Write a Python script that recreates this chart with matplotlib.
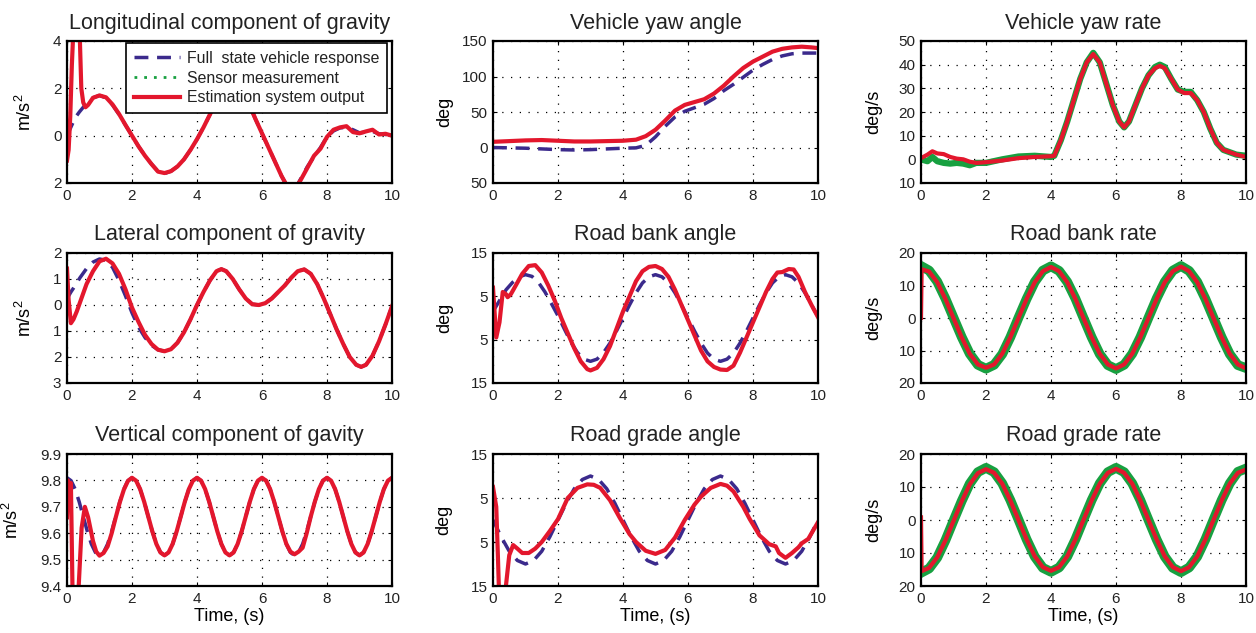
import numpy as np
import matplotlib
matplotlib.use('Agg')
import matplotlib.pyplot as plt
from matplotlib.lines import Line2D
from matplotlib.ticker import FuncFormatter

plt.rcParams['font.family'] = ['Liberation Sans', 'DejaVu Sans']
plt.rcParams['mathtext.fontset'] = 'custom'
plt.rcParams['mathtext.rm'] = 'Liberation Sans'
plt.rcParams['mathtext.default'] = 'regular'
plt.rcParams['text.color'] = '#222222'
plt.rcParams['xtick.color'] = 'black'
plt.rcParams['ytick.color'] = 'black'
plt.rcParams['xtick.labelcolor'] = '#222222'
plt.rcParams['ytick.labelcolor'] = '#222222'

RED = '#e3172d'
BLUE = '#3b2a8c'
GREEN = '#17a040'

# ---------------- data ----------------
# longitudinal component of gravity (m/s^2)
long_t = [0, 0.05, 0.1, 0.15, 0.2, 0.3, 0.38, 0.44, 0.5, 0.57, 0.65, 0.8, 1.0, 1.2, 1.4, 1.6, 1.8,
          2.0, 2.2, 2.4, 2.6, 2.8, 3.0, 3.2, 3.4, 3.6, 3.8, 4.0, 4.2, 4.4, 4.6, 4.8, 5.0, 5.2, 5.4,
          5.6, 5.8, 6.0, 6.2, 6.4, 6.6, 6.8, 7.0, 7.2, 7.4, 7.6, 7.8, 8.0, 8.2, 8.4, 8.6, 8.8, 9.0,
          9.2, 9.4, 9.6, 9.8, 10.0]
long_full = [0.0, 0.15, 0.3, 0.45, 0.6, 0.85, 1.0, 1.1, 1.2, 1.3, 1.4, 1.6, 1.7, 1.6, 1.3, 0.9, 0.45,
             0.0, -0.45, -0.85, -1.2, -1.5, -1.6, -1.5, -1.3, -1.0, -0.6, -0.15, 0.35, 0.9, 1.5, 2.0,
             2.3, 2.35, 2.0, 1.3, 0.7, 0.1, -0.5, -1.1, -1.7, -2.2, -2.3, -1.8, -1.3, -0.9, -0.5,
             -0.05, 0.2, 0.33, 0.35, 0.25, 0.12, 0.15, 0.18, 0.08, 0.05, 0.0]
long_est = [-1.05, -0.6, 0.8, 3.0, 4.6, 5.0, 4.8, 2.0, 1.4, 1.2, 1.3, 1.6, 1.7, 1.62, 1.32, 0.92, 0.45,
            0.0, -0.45, -0.85, -1.2, -1.52, -1.58, -1.5, -1.3, -1.0, -0.6, -0.15, 0.35, 0.9, 1.5, 2.0,
            2.3, 2.35, 2.0, 1.35, 0.7, 0.1, -0.5, -1.1, -1.7, -2.2, -2.3, -1.85, -1.35, -0.85, -0.55,
            -0.05, 0.25, 0.35, 0.4, 0.15, 0.1, 0.18, 0.25, 0.05, 0.08, 0.0]

# vehicle yaw angle (deg)
yaw_t = [0, 0.5, 1, 1.5, 2, 2.5, 3, 3.5, 4, 4.4, 4.7, 5.0, 5.3, 5.6, 5.9, 6.2, 6.5, 6.8, 7.1, 7.4,
         7.7, 8.0, 8.3, 8.6, 8.9, 9.2, 9.5, 9.8, 10]
yaw_full = [0, -0.5, -1, -2, -3, -3.5, -3, -2, -1, -0.5, 3, 15, 30, 43, 51, 56, 61, 69, 80, 89,
            99, 109, 117, 124, 129, 132, 133, 133, 133]
yaw_est = [8, 9, 10, 10.5, 9.5, 8.5, 8.5, 9, 9.5, 11, 16, 25, 38, 52, 60, 64, 68, 76, 87, 100,
           112, 121, 128, 135, 139, 141, 142, 141, 140]

# vehicle yaw rate (deg/s)
yawr_t = [0, 0.2, 0.35, 0.5, 0.7, 0.9, 1.1, 1.3, 1.5, 1.7, 2.0, 2.5, 3.0, 3.5, 4.0, 4.1, 4.3, 4.5,
          4.7, 4.9, 5.1, 5.3, 5.5, 5.7, 5.9, 6.1, 6.25, 6.4, 6.6, 6.8, 7.0, 7.2, 7.35, 7.5, 7.7,
          7.9, 8.1, 8.3, 8.5, 8.7, 8.9, 9.1, 9.3, 9.5, 9.7, 10]
yawr_est = [0.5, 2, 3.4, 2.5, 2.2, 1.0, 0.3, 0, -1, -1.5, -1.2, -0.5, 0.5, 1.0, 1.3, 1.5, 8, 16,
            25, 34, 41, 44.5, 41, 32, 23, 16, 13.5, 16, 23, 30, 35.5, 38.5, 39.5, 38.5, 34,
            29.5, 28, 28, 25, 20, 13, 7, 4, 3, 2, 1]
yawr_meas = [0, -0.8, 1, -0.8, -1.5, -1.8, -1.5, -1.8, -2.5, -1.5, -1.5, 0, 1.2, 1.5, 1.0, 1.5, 8,
             16, 25, 34, 41, 45, 41, 32, 23, 16, 13.5, 16, 23, 30, 35.5, 39, 40, 39, 34,
             29.5, 28.5, 28.5, 25, 20, 13, 7, 4, 3, 2, 1.5]

# lateral component of gravity (m/s^2)
lat_t = [0, 0.05, 0.12, 0.2, 0.3, 0.4, 0.6, 0.8, 1.0, 1.2, 1.4, 1.6, 1.8, 2.0, 2.2, 2.4, 2.6, 2.8,
         3.0, 3.2, 3.4, 3.6, 3.8, 4.0, 4.2, 4.4, 4.6, 4.75, 4.9, 5.1, 5.3, 5.5, 5.7, 5.9, 6.1, 6.3,
         6.5, 6.7, 6.9, 7.1, 7.3, 7.5, 7.7, 7.9, 8.1, 8.3, 8.5, 8.7, 8.9, 9.05, 9.2, 9.4, 9.6, 9.8, 10]
lat_full = [0.2, 0.35, 0.5, 0.65, 0.85, 1.05, 1.4, 1.65, 1.77, 1.72, 1.45, 0.95, 0.35, -0.3, -0.85,
            -1.25, -1.55, -1.72, -1.78, -1.7, -1.45, -1.05, -0.55, 0.0, 0.5, 0.95, 1.3, 1.38, 1.3,
            1.0, 0.6, 0.25, 0.03, 0.0, 0.07, 0.25, 0.5, 0.75, 1.05, 1.3, 1.37, 1.2, 0.8, 0.25,
            -0.35, -0.95, -1.5, -2.0, -2.3, -2.38, -2.3, -1.95, -1.4, -0.75, -0.05]
lat_est = [1.4, 0.2, -0.7, -0.55, -0.25, 0.1, 0.8, 1.3, 1.68, 1.78, 1.6, 1.2, 0.6, -0.1, -0.65,
           -1.15, -1.5, -1.72, -1.78, -1.7, -1.45, -1.05, -0.55, 0.0, 0.5, 0.95, 1.3, 1.38, 1.3,
           1.0, 0.6, 0.25, 0.03, 0.0, 0.07, 0.25, 0.5, 0.75, 1.05, 1.3, 1.37, 1.2, 0.8, 0.25,
           -0.35, -0.95, -1.5, -2.0, -2.3, -2.38, -2.3, -1.95, -1.4, -0.75, -0.05]

# road bank angle (deg)
bank_t = [0, 0.2, 0.4, 0.6, 0.8, 1.0, 1.2, 1.4, 1.6, 1.8, 2.0, 2.2, 2.4, 2.6, 2.8, 3.0, 3.2, 3.4,
          3.6, 3.8, 4.0, 4.2, 4.4, 4.6, 4.8, 5.0, 5.2, 5.4, 5.6, 5.8, 6.0, 6.2, 6.4, 6.6, 6.8, 7.0,
          7.2, 7.4, 7.6, 7.8, 8.0, 8.2, 8.4, 8.6, 8.8, 9.0, 9.2, 9.4, 9.6, 9.8, 10]
bank_full = [1.5, 4.0, 6.5, 8.2, 9.5, 10.0, 9.6, 8.2, 6.0, 3.3, 0.5, -2.6, -5.6, -8.0, -9.5, -10.0,
             -9.5, -8.0, -5.8, -3.0, 0.0, 3.0, 5.8, 8.1, 9.5, 10.0, 9.5, 8.1, 5.8, 3.0, 0.0, -3.0,
             -5.8, -8.1, -9.5, -10.0, -9.5, -8.1, -5.8, -3.0, 0.0, 3.0, 5.8, 8.1, 9.5, 10.0, 9.5,
             8.1, 5.8, 3.0, 0.3]
bank_est_t = [0, 0.1, 0.2, 0.3, 0.4, 0.45, 0.55, 0.7, 0.9, 1.1, 1.3, 1.5, 1.7, 1.9, 2.1, 2.3, 2.5,
              2.7, 2.9, 3.0, 3.2, 3.4, 3.6, 3.8, 4.0, 4.2, 4.4, 4.6, 4.8, 5.0, 5.2, 5.4, 5.6, 5.8,
              6.0, 6.2, 6.4, 6.6, 6.8, 7.0, 7.2, 7.4, 7.6, 7.8, 8.0, 8.2, 8.4, 8.6, 8.75, 8.9,
              9.1, 9.25, 9.4, 9.6, 9.8, 10]
bank_est = [7, -4.5, -1, 6, 5.5, 4.8, 5.5, 7.5, 10.2, 12.0, 12.2, 10.5, 7.5, 4, 0, -3.5, -7, -10,
            -11.8, -12.1, -11.5, -9.5, -6.5, -2.5, 1.5, 5, 8.5, 10.8, 11.8, 12, 11.3, 9.5, 6.5,
            3, -0.5, -4, -7.5, -10, -11.3, -11.9, -12, -11, -8, -4.5, -1, 2.5, 6, 9, 10.5, 10.6,
            11.3, 11.2, 9.5, 6, 3, 0.2]

# road bank rate (deg/s), 0.25 s grid
rate_t = [0.25 * k for k in range(41)]
bank_rate_est_t = [0, 0.02] + rate_t[1:]
bank_rate_est = [0, 15.0, 14.3, 11.0, 5.9, 0.0, -5.9, -11.0, -14.3, -15.3, -14.3, -11.0, -5.9, 0.0,
                 5.9, 11.0, 14.4, 15.7, 14.4, 11.0, 5.9, 0.0, -5.9, -11.0, -14.3, -15.5, -14.3,
                 -11.0, -5.9, 0.0, 5.9, 11.0, 14.4, 15.8, 14.4, 11.0, 5.9, 0.0, -5.9, -11.0, -14.3,
                 -15.5]
bank_rate_meas = [16.0, 14.6, 11.2, 6.0, 0.1, -5.8, -11.0, -14.4, -15.6, -14.4, -11.1, -5.9, 0.1,
                  5.9, 11.1, 14.6, 15.9, 14.5, 11.1, 6.0, 0.0, -5.9, -11.1, -14.5, -15.7, -14.4,
                  -11.0, -5.9, 0.1, 6.0, 11.1, 14.6, 16.0, 14.5, 11.1, 5.9, 0.0, -5.9, -11.1,
                  -14.5, -15.4]

# vertical component of gravity (m/s^2), 0.125 s grid
vert_t = [0.125 * k for k in range(81)]
vert_full = [9.81, 9.799, 9.767, 9.719, 9.663, 9.607, 9.559, 9.527,
             9.516, 9.527, 9.559, 9.607, 9.663, 9.719, 9.767, 9.799,
             9.81, 9.799, 9.767, 9.719, 9.663, 9.607, 9.559, 9.527,
             9.516, 9.527, 9.559, 9.607, 9.663, 9.719, 9.767, 9.799,
             9.81, 9.799, 9.767, 9.719, 9.663, 9.607, 9.559, 9.527,
             9.516, 9.527, 9.559, 9.607, 9.663, 9.719, 9.767, 9.799,
             9.81, 9.799, 9.767, 9.719, 9.663, 9.607, 9.559, 9.527,
             9.516, 9.527, 9.559, 9.607, 9.663, 9.719, 9.767, 9.799,
             9.81, 9.799, 9.767, 9.719, 9.663, 9.607, 9.559, 9.527,
             9.516, 9.527, 9.559, 9.607, 9.663, 9.719, 9.767, 9.799, 9.81]
vert_est_t = [0, 0.03, 0.08, 0.12, 0.18, 0.25, 0.3, 0.36, 0.45, 0.55, 0.65, 0.8, 0.9, 1.0,
              1.125] + vert_t[10:]
vert_est = [9.66, 9.80, 9.75, 9.79, 9.30, 9.20, 9.25, 9.40, 9.62, 9.70, 9.66, 9.57, 9.53, 9.515,
            9.525,
            9.55, 9.60, 9.66, 9.717, 9.765, 9.798,
            9.81, 9.799, 9.767, 9.719, 9.663, 9.607, 9.559, 9.527,
            9.516, 9.527, 9.559, 9.607, 9.663, 9.719, 9.767, 9.799,
            9.81, 9.799, 9.767, 9.719, 9.663, 9.607, 9.559, 9.527,
            9.516, 9.527, 9.559, 9.607, 9.663, 9.719, 9.767, 9.799,
            9.81, 9.799, 9.767, 9.719, 9.663, 9.607, 9.559, 9.53,
            9.52, 9.53, 9.545, 9.60, 9.663, 9.719, 9.767, 9.799,
            9.81, 9.799, 9.767, 9.719, 9.663, 9.607, 9.559, 9.527,
            9.516, 9.527, 9.559, 9.607, 9.663, 9.719, 9.767, 9.799, 9.81]

# road grade angle (deg)
grade_full = [0, -3.8, -7.1, -9.2, -10, -9.2, -7.1, -3.8, 0, 3.8, 7.1, 9.2, 10, 9.2, 7.1, 3.8,
              0, -3.8, -7.1, -9.2, -10, -9.2, -7.1, -3.8, 0, 3.8, 7.1, 9.2, 10, 9.2, 7.1, 3.8,
              0, -3.8, -7.1, -9.2, -10, -9.2, -7.1, -3.8, 0]
grade_est_t = [0, 0.1, 0.15, 0.2, 0.3, 0.39, 0.5, 0.62, 0.75, 0.9, 1.1, 1.3, 1.5, 1.75, 2.0, 2.3,
               2.6, 2.9, 3.1, 3.3, 3.6, 3.9, 4.2, 4.4, 4.7, 5.0, 5.3, 5.6, 5.9, 6.2, 6.4, 6.7, 7.0,
               7.2, 7.4, 7.7, 7.9, 8.2, 8.5, 8.7, 8.8, 9.0, 9.2, 9.4, 9.5, 9.7, 10]
grade_est = [7.5, 3, -8, -20, -25, -15.5, -8, -5.7, -6.5, -7.5, -7.5, -6.5, -5, -2.5, 0.2, 5, 7.3,
             8.1, 8.0, 7.3, 4.5, 0.5, -3.2, -5, -7, -7.7, -6.8, -4, 0, 3.5, 5.3, 7.3, 8.2, 7.8,
             6.5, 3, 0.2, -3.5, -5.5, -6, -7.5, -8.6, -7.5, -6.2, -5.3, -4.3, -0.5]

# road grade rate (deg/s)
grade_rate_est_t = [0, 0.02] + rate_t[1:]
grade_rate_est = [0.8, -15.5, -14.5, -11.3, -6.2, -0.3, 5.6, 10.8, 14.2, 15.4, 14.3, 11.0, 5.9, 0.0,
                  -5.9, -11.0, -14.3, -15.4, -14.3, -11.0, -5.9, 0.0, 5.9, 11.0, 14.3, 15.5, 14.3,
                  11.0, 5.9, 0.0, -5.9, -11.0, -14.3, -15.5, -14.3, -11.0, -5.9, 0.0, 5.9, 11.0,
                  14.3, 15.3]
grade_rate_meas = [-16.0, -14.7, -11.4, -6.2, -0.2, 5.7, 11.0, 14.5, 15.8, 14.5, 11.1, 6.0, 0.1,
                   -5.9, -11.1, -14.5, -15.7, -14.4, -11.1, -5.9, 0.1, 6.0, 11.1, 14.5, 15.8,
                   14.5, 11.1, 6.0, 0.0, -5.9, -11.1, -14.5, -15.8, -14.4, -11.1, -5.9, 0.1, 6.0,
                   11.1, 14.6, 15.6]

# ---------------- layout ----------------
W, H = 1256, 633
col_left = [67, 493, 921]
col_width = 325
row_span = [(41, 183), (253, 383), (454, 586)]

fig = plt.figure(figsize=(W / 100, H / 100), dpi=100)


def make_axes(r, c):
    top, bot = row_span[r]
    return fig.add_axes([col_left[c] / W, 1 - bot / H, col_width / W, (bot - top) / H])


def style(ax, ylim, yticks, ylabel, title, label_x, xlabel=False):
    ax.set_xlim(0, 10)
    ax.set_ylim(*ylim)
    ax.set_xticks(range(0, 11, 2))
    ax.set_yticks(yticks)
    ax.yaxis.set_major_formatter(FuncFormatter(lambda v, p: '%g' % abs(v)))
    ax.grid(True, color='black', linestyle=(0, (1, 6)), linewidth=0.9)
    ax.tick_params(direction='in', length=3, top=True, right=True, labelsize=11, pad=4)
    for s in ax.spines.values():
        s.set_linewidth(1.6)
    ax.set_title(title, fontsize=15.5, pad=9)
    ax.set_ylabel(ylabel, fontsize=13)
    ax.yaxis.set_label_coords(label_x, 0.5)
    if xlabel:
        ax.set_xlabel('Time, (s)', fontsize=13, labelpad=2)


LW_RED = 3.0
LW_BLUE = 2.5
DASH = (0, (4, 2.5))
MS2 = 'm/s$^2$'

# row 1
ax = make_axes(0, 0)
ax.plot(long_t, long_full, color=BLUE, lw=LW_BLUE, linestyle=DASH)
ax.plot(long_t, long_est, color=RED, lw=LW_RED)
style(ax, (-2, 4), [-2, 0, 2, 4], MS2, 'Longitudinal component of gravity', -0.098)
handles = [Line2D([], [], color=BLUE, lw=LW_BLUE, linestyle=DASH),
           Line2D([], [], color=GREEN, lw=2, linestyle=(0, (1, 2.5))),
           Line2D([], [], color=RED, lw=LW_RED)]
leg = ax.legend(handles, ['Full  state vehicle response', 'Sensor measurement',
                          'Estimation system output'],
                loc='upper right', bbox_to_anchor=(0.985, 0.986), borderaxespad=0,
                fontsize=11.4, frameon=True, fancybox=False, framealpha=1, edgecolor='black',
                handlelength=2.9, handletextpad=0.45, labelspacing=0.3, borderpad=0.5)
leg.get_frame().set_linewidth(1.2)

ax = make_axes(0, 1)
ax.plot(yaw_t, yaw_full, color=BLUE, lw=LW_BLUE, linestyle=DASH)
ax.plot(yaw_t, yaw_est, color=RED, lw=LW_RED)
style(ax, (-50, 150), [-50, 0, 50, 100, 150], 'deg', 'Vehicle yaw angle', -0.123)

ax = make_axes(0, 2)
ax.plot(yawr_t, yawr_meas, color=GREEN, lw=4.5)
ax.plot(yawr_t, yawr_est, color=RED, lw=LW_RED)
style(ax, (-10, 50), [-10, 0, 10, 20, 30, 40, 50], 'deg/s', 'Vehicle yaw rate', -0.12)

# row 2
ax = make_axes(1, 0)
ax.plot(lat_t, lat_full, color=BLUE, lw=LW_BLUE, linestyle=DASH)
ax.plot(lat_t, lat_est, color=RED, lw=LW_RED)
style(ax, (-3, 2), [-3, -2, -1, 0, 1, 2], MS2, 'Lateral component of gravity', -0.098)

ax = make_axes(1, 1)
ax.plot(bank_t, bank_full, color=BLUE, lw=LW_BLUE, linestyle=DASH)
ax.plot(bank_est_t, bank_est, color=RED, lw=LW_RED)
style(ax, (-15, 15), [-15, -5, 5, 15], 'deg', 'Road bank angle', -0.123)

ax = make_axes(1, 2)
ax.plot(rate_t, bank_rate_meas, color=GREEN, lw=7)
ax.plot(bank_rate_est_t, bank_rate_est, color=RED, lw=LW_RED)
style(ax, (-20, 20), [-20, -10, 0, 10, 20], 'deg/s', 'Road bank rate', -0.12)

# row 3
ax = make_axes(2, 0)
ax.plot(vert_t, vert_full, color=BLUE, lw=LW_BLUE, linestyle=DASH)
ax.plot(vert_est_t, vert_est, color=RED, lw=LW_RED)
style(ax, (9.4, 9.9), [9.4, 9.5, 9.6, 9.7, 9.8, 9.9], MS2, 'Vertical component of gavity',
      -0.138, xlabel=True)

ax = make_axes(2, 1)
ax.plot(rate_t, grade_full, color=BLUE, lw=LW_BLUE, linestyle=DASH)
ax.plot(grade_est_t, grade_est, color=RED, lw=LW_RED)
style(ax, (-15, 15), [-15, -5, 5, 15], 'deg', 'Road grade angle', -0.126, xlabel=True)

ax = make_axes(2, 2)
ax.plot(rate_t, grade_rate_meas, color=GREEN, lw=7)
ax.plot(grade_rate_est_t, grade_rate_est, color=RED, lw=LW_RED)
style(ax, (-20, 20), [-20, -10, 0, 10, 20], 'deg/s', 'Road grade rate', -0.12, xlabel=True)

fig.savefig('out.png', dpi=100)
